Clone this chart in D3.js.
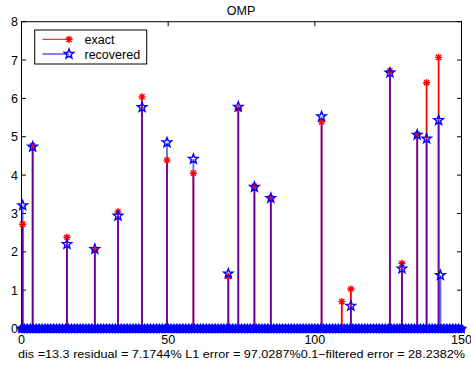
<!DOCTYPE html>
<html>
<head>
<meta charset="utf-8">
<script src="https://cdn.jsdelivr.net/npm/d3@7"></script>
<style>
  body { margin: 0; background: #fff; }
  text { font-family: "Liberation Sans", Arial, sans-serif; }
</style>
</head>
<body>
<div id="chart"></div>
<script>
// positions of the nonzero entries (index on the x axis)
const idx = [0.4, 3.8, 15.5, 25, 32.9, 41.1, 49.6, 58.6, 70.5, 73.9, 79.4, 85, 102.3, 109.2, 112.3, 125.6, 129.7, 134.9, 138.1, 142.2, 142.8];
const exact = [2.72, 4.76, 2.38, 2.04, 3.04, 6.04, 4.39, 4.05, 1.36, 5.73, 3.71, 3.40, 5.39, 0.70, 1.03, 6.72, 1.70, 5.06, 6.41, 7.07, 0];
const recovered = [3.21, 4.74, 2.20, 2.07, 2.94, 5.77, 4.85, 4.42, 1.43, 5.78, 3.69, 3.40, 5.53, 0, 0.59, 6.67, 1.56, 5.05, 4.95, 5.43, 1.39];
const xTicks = [0, 50, 100, 150];
const yTicks = [0, 1, 2, 3, 4, 5, 6, 7, 8];
const title = "OMP";
const caption = "dis =13.3 residual = 7.1744% L1 error = 97.0287%0.1\u2212filtered error = 28.2382%";

const W = 471, H = 367;
const x = d3.scaleLinear().domain([0, 150]).range([21.5, 461.5]);
const y = d3.scaleLinear().domain([0, 8]).range([328.5, 21.7]);

const svg = d3.select("#chart").append("svg")
  .attr("width", W).attr("height", H);

// every other entry of both vectors is zero
const zeros = d3.range(0, 151);

function star(R, r) {
  let p = [];
  for (let i = 0; i < 10; i++) {
    const rr = i % 2 === 0 ? R : r;
    const a = -Math.PI / 2 + i * Math.PI / 5;
    p.push([rr * Math.cos(a), rr * Math.sin(a)]);
  }
  return "M" + p.map(d => d[0].toFixed(2) + "," + d[1].toFixed(2)).join("L") + "Z";
}
const starPath = star(5, 2.1);
const smallStar = star(4, 2.4);

const astPath = (function () {
  const r = 3.6, s = r * 0.72;
  return "M" + -r + ",0L" + r + ",0M0," + -r + "L0," + r +
    "M" + -s + "," + -s + "L" + s + "," + s + "M" + -s + "," + s + "L" + s + "," + -s;
})();

// axes box
svg.append("rect")
  .attr("x", x(0)).attr("y", y(8))
  .attr("width", x(150) - x(0)).attr("height", y(0) - y(8))
  .attr("fill", "#fff").attr("stroke", "#000").attr("stroke-width", 1);

// ticks inward on all four sides
const tl = 4.5;
svg.selectAll(".xt").data(xTicks).enter().append("path")
  .attr("d", d => "M" + x(d) + "," + y(0) + "v" + (-tl) + "M" + x(d) + "," + y(8) + "v" + tl)
  .attr("stroke", "#000");
svg.selectAll(".yt").data(yTicks).enter().append("path")
  .attr("d", d => "M" + x(0) + "," + y(d) + "h" + tl + "M" + x(150) + "," + y(d) + "h" + (-tl))
  .attr("stroke", "#000");

svg.selectAll(".xl").data(xTicks).enter().append("text")
  .attr("x", d => x(d)).attr("y", y(0) + 15.5)
  .attr("text-anchor", "middle").attr("font-size", 12.5)
  .text(d => d);
svg.selectAll(".yl").data(yTicks).enter().append("text")
  .attr("x", x(0) - 3.5).attr("y", d => y(d) + 4.5)
  .attr("text-anchor", "end").attr("font-size", 12.5)
  .text(d => d);

// stems
svg.selectAll(".se").data(idx).enter().append("line")
  .attr("x1", d => x(d)).attr("x2", d => x(d))
  .attr("y1", y(0)).attr("y2", (d, i) => y(exact[i]))
  .attr("stroke", "#ff0000").attr("stroke-width", 1.8);
svg.selectAll(".sr").data(idx).enter().append("line")
  .attr("x1", d => x(d)).attr("x2", d => x(d))
  .attr("y1", y(0)).attr("y2", (d, i) => y(recovered[i]))
  .attr("stroke", "#0000ff").attr("stroke-width", 1.8).attr("stroke-opacity", 0.6);

// zero entries
svg.selectAll(".ze").data(zeros).enter().append("path")
  .attr("d", astPath).attr("transform", d => "translate(" + x(d) + "," + y(0) + ")")
  .attr("stroke", "#ff0000").attr("stroke-width", 1.4).attr("fill", "none");
svg.selectAll(".zr").data(zeros).enter().append("path")
  .attr("d", smallStar).attr("transform", d => "translate(" + x(d) + "," + (y(0) + 0.3) + ")")
  .attr("stroke", "#0000ff").attr("stroke-width", 2).attr("fill", "#0000ff");

// nonzero markers
svg.selectAll(".me").data(idx.filter((d, i) => exact[i] !== 0)).enter().append("path")
  .attr("d", astPath)
  .attr("transform", d => "translate(" + x(d) + "," + y(exact[idx.indexOf(d)]) + ")")
  .attr("stroke", "#ff0000").attr("stroke-width", 1.4).attr("fill", "none");
svg.selectAll(".mr").data(idx.filter((d, i) => recovered[i] !== 0)).enter().append("path")
  .attr("d", starPath)
  .attr("transform", d => "translate(" + x(d) + "," + y(recovered[idx.indexOf(d)]) + ")")
  .attr("stroke", "#0000ff").attr("stroke-width", 1.4).attr("fill", "none");

// title and caption
svg.append("text").attr("x", 241).attr("y", 14.5)
  .attr("text-anchor", "middle").attr("font-size", 12.5).text(title);
svg.append("text").attr("x", 18).attr("y", 357.5)
  .attr("font-size", 11.5)
  .attr("textLength", 447).attr("lengthAdjust", "spacingAndGlyphs")
  .text(caption);

// legend
const lg = svg.append("g");
lg.append("rect").attr("x", 34.7).attr("y", 30).attr("width", 112).attr("height", 34)
  .attr("fill", "#fff").attr("stroke", "#000");
const entries = [
  { name: "exact", color: "#ff0000", path: astPath },
  { name: "recovered", color: "#0000ff", path: starPath }
];
entries.forEach((e, i) => {
  const yy = 39.3 + i * 14.7;
  lg.append("line").attr("x1", 42.5).attr("x2", 69).attr("y1", yy).attr("y2", yy)
    .attr("stroke", e.color).attr("stroke-width", 1);
  lg.append("path").attr("d", e.path).attr("transform", "translate(69," + yy + ")")
    .attr("stroke", e.color).attr("stroke-width", 1.4).attr("fill", "none");
  lg.append("text").attr("x", 84.5).attr("y", yy + 4.5).attr("font-size", 12.5).text(e.name);
});
</script>
</body>
</html>
